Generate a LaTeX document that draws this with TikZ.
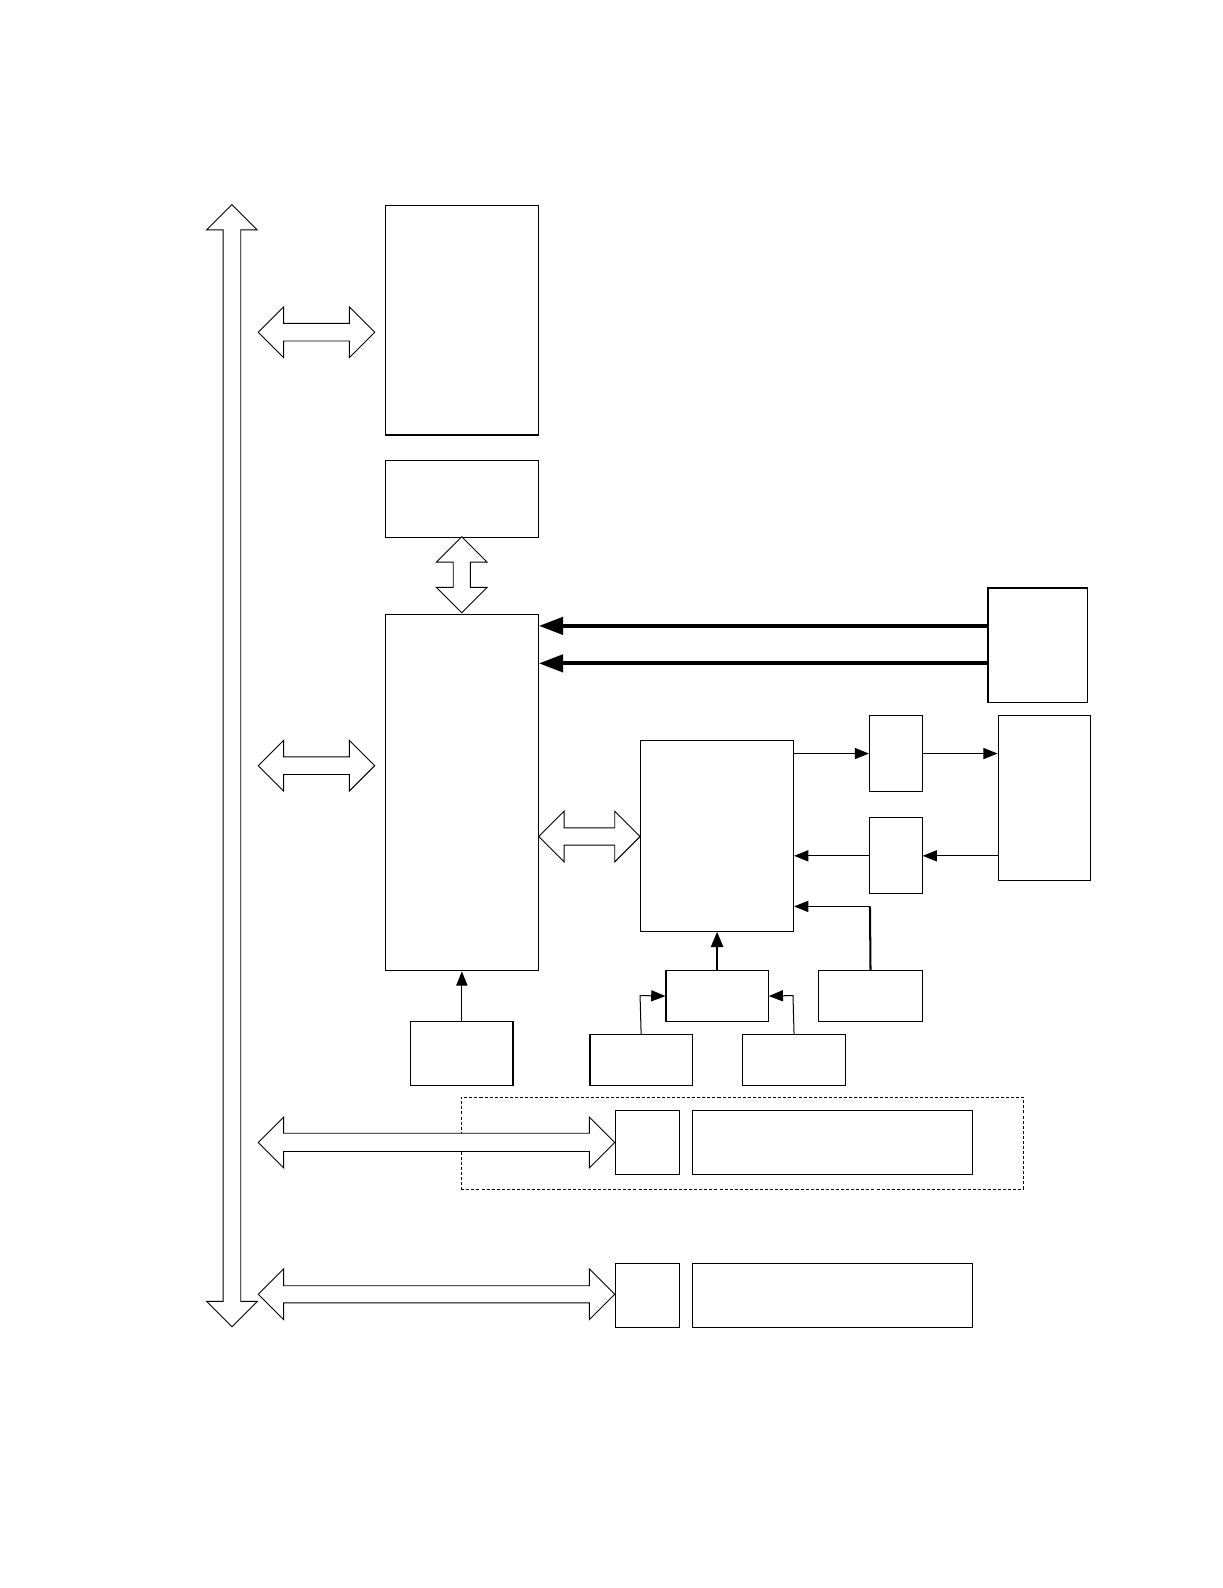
\documentclass[tikz,border=0pt]{standalone}
\usetikzlibrary{arrows.meta}
\tikzset{
  box/.style={draw, line width=1.1pt, inner sep=0pt, anchor=north west},
  fatarrow/.style={draw, line width=0.9pt, fill=white, line join=miter},
  thinarr/.style={line width=1pt, -{Triangle[length=14pt,width=11pt]}},
  midarr/.style={line width=2pt, -{Triangle[length=15pt,width=12pt]}},
  thickarr/.style={line width=4pt, -{Triangle[length=24pt,width=17pt]}},
  dashbox/.style={draw, line width=0.9pt, dash pattern=on 3pt off 2pt}
}
\newcommand{\mybox}[5]{\node[box, minimum width=#4pt, minimum height=#5pt] (#1) at (#2,#3) {};}
% x1, x2, y, head length, shaft half, head half
\newcommand{\hdbl}[6]{\draw[fatarrow] (#1,#3) -- (#1+#4,#3-#6) -- (#1+#4,#3-#5) -- (#2-#4,#3-#5) -- (#2-#4,#3-#6) -- (#2,#3) -- (#2-#4,#3+#6) -- (#2-#4,#3+#5) -- (#1+#4,#3+#5) -- (#1+#4,#3+#6) -- cycle;}
% y1, y2, x, head length, shaft half, head half
\newcommand{\vdbl}[6]{\draw[fatarrow] (#3,#1) -- (#3+#6,#1+#4) -- (#3+#5,#1+#4) -- (#3+#5,#2-#4) -- (#3+#6,#2-#4) -- (#3,#2) -- (#3-#6,#2-#4) -- (#3-#5,#2-#4) -- (#3-#5,#1+#4) -- (#3-#6,#1+#4) -- cycle;}
\begin{document}
\begin{tikzpicture}[x=1pt,y=-1pt]
\useasboundingbox (0,0) rectangle (1207,1568);
\fill[white] (0,0) rectangle (1207,1568);

% boxes
\mybox{A}{380}{202}{151}{227}
\mybox{B}{380}{454}{151}{76}
\mybox{C}{380}{606}{151}{352}
\mybox{D}{975}{580}{98}{113}
\mybox{E}{632}{731}{151}{188}
\mybox{F}{858}{706}{52}{75}
\mybox{G}{858}{807}{52}{75}
\mybox{H}{985}{706}{91}{163}
\mybox{I}{657}{958}{101}{50}
\mybox{J}{808}{958}{102}{50}
\mybox{K}{405}{1008}{101}{63}
\mybox{L}{582}{1021}{101}{50}
\mybox{M}{733}{1021}{101}{50}
\mybox{N}{607}{1096}{63}{63}
\mybox{O}{683}{1096}{277}{63}
\mybox{P}{607}{1247}{63}{63}
\mybox{Q}{683}{1247}{277}{63}

% dashed group
\node[dashbox, inner sep=0pt, anchor=north west, minimum width=555pt, minimum height=91pt] (grp) at (455,1083) {};

% bus
\vdbl{202}{1310}{229}{25}{8.7}{25}

% outline double arrows
\hdbl{255}{370}{328}{25}{8.7}{25}
\hdbl{255}{370}{756}{25}{8.7}{25}
\vdbl{530}{605}{456}{25}{8.5}{25}
\hdbl{532}{632}{826}{25}{8.5}{25}
\hdbl{255}{607}{1128}{25}{9}{25}
\hdbl{255}{607}{1278}{25}{8.5}{25}

% thick arrows from D to C
\coordinate (d1) at (975,618);
\coordinate (d2) at (975,655);
\draw[thickarr] (d1) -- (C.east |- d1);
\draw[thickarr] (d2) -- (C.east |- d2);

% E <-> F, G, H
\draw[thinarr] (E.east |- F.west) -- (F.west);
\draw[thinarr] (F.east) -- (H.west |- F.east);
\draw[thinarr] (H.west |- G.east) -- (G.east);
\draw[thinarr] (G.west) -- (E.east |- G.west);

% J to E
\coordinate (jc) at (859,895);
\draw[line width=2pt] (J.north) -- (jc);
\draw[thinarr] (jc) -- (E.east |- jc);

% I to E
\draw[midarr] (I.north) -- (E.south);

% K to C
\draw[thinarr] (K.north) -- (C.south);

% L, M to I
\coordinate (lc) at (632,983);
\coordinate (mc) at (783,983);
\draw[thinarr] (L.north) -- (lc) -- (I.west);
\draw[thinarr] (M.north) -- (mc) -- (I.east);
\end{tikzpicture}
\end{document}
